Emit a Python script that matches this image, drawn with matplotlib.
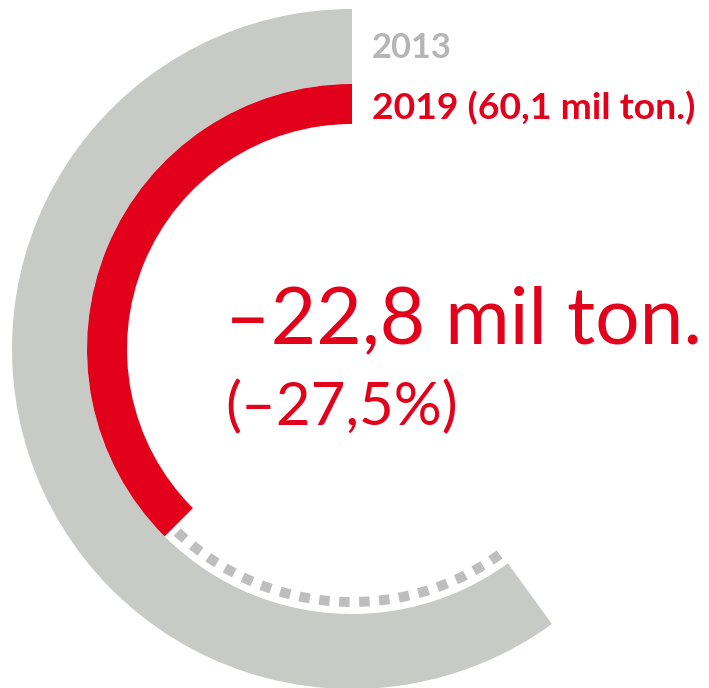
import numpy as np
import matplotlib
matplotlib.use('Agg')
from matplotlib import pyplot as plt
from matplotlib.patches import Wedge

# data
years = ['2013', '2019']
tonnes = [82.9, 60.1]   # mil ton.
diff_label = '–22,8 mil ton.'
pct_label = '(–27,5%)'
label_2019 = '2019 (60,1 mil ton.)'

# radial scale (mil ton. -> degrees, counterclockwise from 12 o'clock)
scale_zero = 22.1
deg_per_mt = 3.553

gray = '#c8cac5'
red = '#e2001a'
dash_gray = '#bebebe'
text_gray = '#b5b5b5'

plt.rcParams['font.family'] = ['Lato', 'DejaVu Sans']

fig = plt.figure(figsize=(7.09, 6.88), dpi=100)
ax = fig.add_axes([0, 0, 1, 1])
ax.set_xlim(0, 709)
ax.set_ylim(0, 688)
ax.set_aspect('equal')
ax.axis('off')

cx, cy = 352, 339


def to_deg(v):
    return 90 + (v - scale_zero) * deg_per_mt


a13 = to_deg(tonnes[0])
a19 = to_deg(tonnes[1])

# 2013 ring (outer) and 2019 ring (inner)
ax.add_patch(Wedge((cx, cy), 340, 90, a13, width=75, color=gray, lw=0))
ax.add_patch(Wedge((cx, cy), 265, 90, a19, width=40, color=red, lw=0))

# dotted gap = decrease
t = np.deg2rad(np.linspace(a19 + 1.3, a13 - 0.3, 200))
r = 253
ax.plot(cx + r * np.cos(t), cy + r * np.sin(t), color=dash_gray, lw=7.2,
        dashes=(1.05, 0.95), solid_capstyle='butt', dash_capstyle='butt')

renderer = fig.canvas.get_renderer()


def fit_text(x, y, s, width_px, size, **kw):
    # shrink text so it spans width_px like the reference
    txt = ax.text(x, 688 - y, s, fontsize=size, ha='left', va='baseline', **kw)
    w = txt.get_window_extent(renderer).width
    txt.set_fontsize(size * width_px / w)
    return txt


fit_text(372, 58, years[0], 80, 28, color=text_gray, fontweight='bold')
fit_text(372, 119, label_2019, 323, 28, color=red, fontweight='bold')
fit_text(225, 343, diff_label, 477, 58, color=red)
fit_text(225, 425, pct_label, 233, 45, color=red)

plt.savefig('out.png', dpi=100)
